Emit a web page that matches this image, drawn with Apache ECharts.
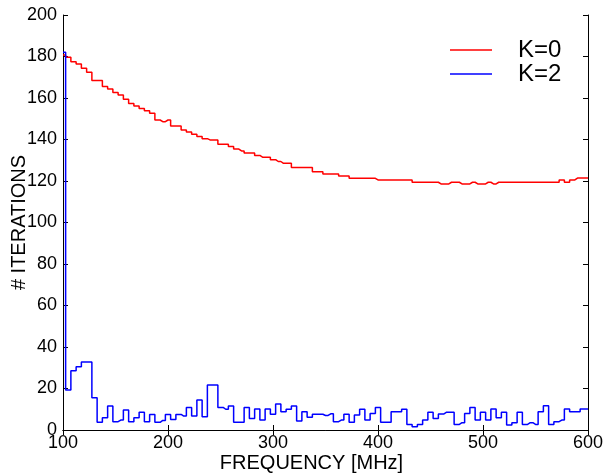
<!DOCTYPE html>
<html>
<head>
<meta charset="utf-8">
<script src="https://cdn.jsdelivr.net/npm/echarts@6/dist/echarts.min.js"></script>
<style>
  html, body { margin: 0; padding: 0; background: #fff; }
  #chart { width: 605px; height: 474px; }
</style>
</head>
<body>
<div id="chart"></div>
<script>
// frequency bins [MHz]
var freqs = [100, 105, 110, 115, 120, 125, 130, 135, 140, 145,
  150, 155, 160, 165, 170, 175, 180, 185, 190, 195,
  200, 205, 210, 215, 220, 225, 230, 235, 240, 245,
  250, 255, 260, 265, 270, 275, 280, 285, 290, 295,
  300, 305, 310, 315, 320, 325, 330, 335, 340, 345,
  350, 355, 360, 365, 370, 375, 380, 385, 390, 395,
  400, 405, 410, 415, 420, 425, 430, 435, 440, 445,
  450, 455, 460, 465, 470, 475, 480, 485, 490, 495,
  500, 505, 510, 515, 520, 525, 530, 535, 540, 545,
  550, 555, 560, 565, 570, 575, 580, 585, 590, 595, 600];

// K=0 iterations
var itersK0 = [180.7, 179.6, 177.5, 176.4, 174.3, 172.4, 168.4, 168.4, 165.5, 164.3,
  162.6, 161.4, 159.4, 157.4, 156.2, 155.0, 153.8, 152.6, 149.4, 148.6,
  149.4, 146.5, 146.5, 144.6, 143.6, 142.5, 141.4, 140.4, 139.8, 139.8,
  137.7, 137.7, 136.6, 135.4, 134.5, 133.5, 133.5, 132.3, 131.5, 131.5,
  130.3, 129.4, 128.5, 128.5, 126.5, 126.5, 126.5, 126.5, 124.5, 124.5,
  123.4, 123.4, 123.4, 122.4, 122.4, 121.3, 121.3, 121.3, 121.3, 121.3,
  120.5, 120.5, 120.5, 120.5, 120.5, 120.5, 120.5, 119.4, 119.4, 119.4,
  119.4, 119.4, 118.6, 118.6, 119.4, 119.4, 118.6, 118.6, 119.4, 118.6,
  118.6, 119.4, 118.6, 119.4, 119.4, 119.4, 119.4, 119.4, 119.4, 119.4,
  119.4, 119.4, 119.4, 119.4, 119.4, 120.5, 119.4, 120.5, 121.4, 121.4, 121.4];

// K=2 iterations
var itersK2 = [182, 19.3, 28.6, 30.5, 32.8, 32.8, 15.6, 3.7, 5.9, 11.6,
  4.0, 4.8, 9.6, 4.0, 5.9, 8.5, 4.0, 7.5, 3.7, 4.6,
  7.5, 5.1, 7.5, 6.7, 10.9, 6.7, 14.5, 6.4, 21.7, 21.7,
  10.9, 10.0, 11.6, 3.7, 3.7, 10.9, 5.6, 10.1, 4.8, 10.1,
  7.6, 12.5, 8.8, 10.0, 11.6, 4.3, 8.8, 6.1, 7.6, 7.6,
  7.0, 7.8, 4.0, 4.8, 7.6, 3.7, 7.2, 10.0, 4.8, 8.0,
  10.8, 3.7, 3.7, 8.8, 8.8, 10.0, 2.7, 1.6, 2.7, 4.8,
  8.5, 5.6, 7.7, 8.5, 8.5, 2.7, 3.5, 8.0, 10.8, 4.8,
  8.5, 4.8, 10.1, 5.9, 8.5, 2.4, 3.5, 8.5, 2.7, 3.5,
  2.7, 8.8, 11.7, 2.7, 4.0, 4.8, 10.1, 8.8, 8.8, 10.1, 10.1];

var seriesNames = ['K=0', 'K=2'];
var seriesColors = ['#ff0000', '#0000ff'];

function pairs(ys) {
  var out = [];
  for (let i = 0; i < freqs.length; i++) {
    out.push([freqs[i], ys[i]]);
  }
  return out;
}

var chart = echarts.init(document.getElementById('chart'), null, { renderer: 'canvas' });

var font = 'Liberation Sans, Arial, Helvetica, sans-serif';
var axisLine = { show: true, lineStyle: { color: '#000', width: 1 } };
var tickIn = { show: true, inside: true, length: 5, lineStyle: { color: '#000' } };

var option = {
  animation: false,
  backgroundColor: '#fff',
  color: seriesColors,
  grid: { left: 63, right: 17, top: 15, bottom: 44, containLabel: false, outerBoundsMode: 'none' },
  legend: {
    data: seriesNames,
    orient: 'vertical',
    left: 445,
    top: 33,
    icon: 'rect',
    itemWidth: 42,
    itemHeight: 1.5,
    itemGap: 0,
    textStyle: { fontFamily: font, fontSize: 24, color: '#000', lineHeight: 23, padding: [0, 0, 0, 21] }
  },
  xAxis: [{
    type: 'value',
    min: 100,
    max: 600,
    interval: 100,
    name: 'FREQUENCY [MHz]',
    nameLocation: 'middle',
    nameGap: 23,
    nameMoveOverlap: false,
    nameTextStyle: { fontFamily: font, fontSize: 20, color: '#000', padding: [0, 28, 0, 0] },
    axisLine: axisLine,
    axisTick: tickIn,
    axisLabel: { fontFamily: font, fontSize: 18, color: '#000', margin: 4 },
    splitLine: { show: false }
  }, {
    type: 'value',
    position: 'top',
    min: 100,
    max: 600,
    interval: 100,
    axisLine: axisLine,
    axisTick: tickIn,
    axisLabel: { show: false },
    splitLine: { show: false }
  }],
  yAxis: [{
    type: 'value',
    min: 0,
    max: 200,
    interval: 20,
    name: '# ITERATIONS',
    nameLocation: 'middle',
    nameGap: 34,
    nameMoveOverlap: false,
    nameTextStyle: { fontFamily: font, fontSize: 20, color: '#000' },
    axisLine: axisLine,
    axisTick: tickIn,
    axisLabel: { fontFamily: font, fontSize: 18, color: '#000', margin: 6 },
    splitLine: { show: false }
  }, {
    type: 'value',
    position: 'right',
    min: 0,
    max: 200,
    interval: 20,
    axisLine: axisLine,
    axisTick: tickIn,
    axisLabel: { show: false },
    splitLine: { show: false }
  }],
  series: [{
    name: seriesNames[0],
    type: 'line',
    step: 'middle',
    symbol: 'none',
    lineStyle: { width: 1.5, color: seriesColors[0] },
    data: pairs(itersK0)
  }, {
    name: seriesNames[1],
    type: 'line',
    step: 'middle',
    symbol: 'none',
    lineStyle: { width: 1.5, color: seriesColors[1] },
    data: pairs(itersK2)
  }]
};

chart.setOption(option);
</script>
</body>
</html>
